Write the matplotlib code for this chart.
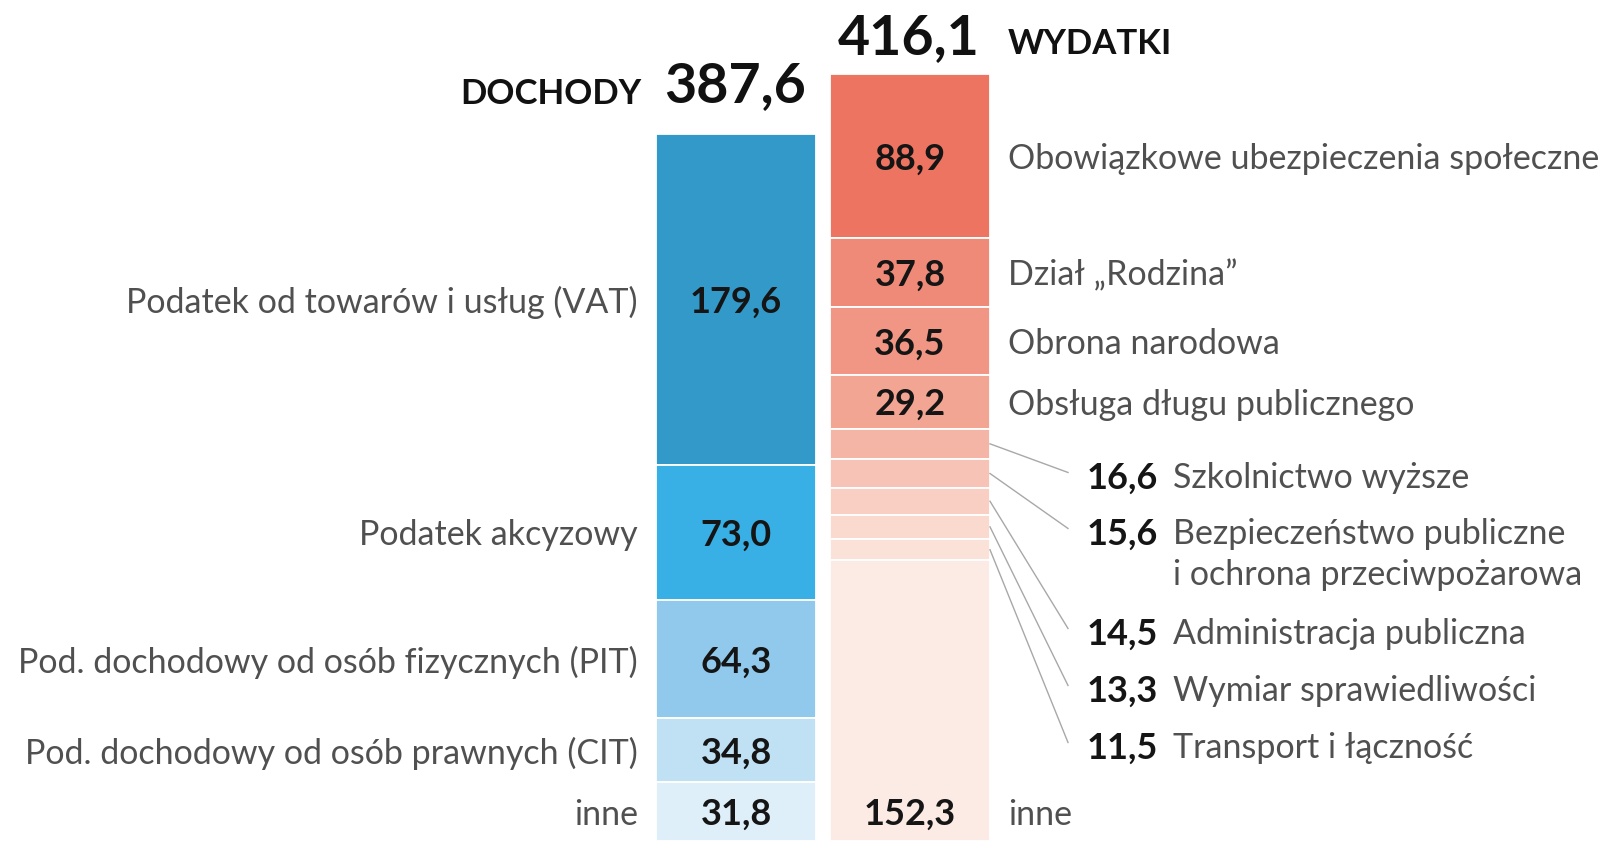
import matplotlib.pyplot as plt

# data (mld zł), listed top to bottom
income_labels = ['Podatek od towarów i usług (VAT)', 'Podatek akcyzowy',
                 'Pod. dochodowy od osób fizycznych (PIT)',
                 'Pod. dochodowy od osób prawnych (CIT)', 'inne']
income_values = [179.6, 73.0, 64.3, 34.8, 31.8]
income_total = 387.6

spend_labels = ['Obowiązkowe ubezpieczenia społeczne', 'Dział „Rodzina”',
                'Obrona narodowa', 'Obsługa długu publicznego',
                'Szkolnictwo wyższe',
                'Bezpieczeństwo publiczne\ni ochrona przeciwpożarowa',
                'Administracja publiczna', 'Wymiar sprawiedliwości',
                'Transport i łączność', 'inne']
spend_values = [88.9, 37.8, 36.5, 29.2, 16.6, 15.6, 14.5, 13.3, 11.5, 152.3]
spend_total = 416.1

income_colors = ['#3399c8', '#38b0e5', '#90c9ec', '#c0e0f4', '#deeffa']
spend_colors = ['#ec7461', '#ef8a78', '#f19684', '#f3a593', '#f5b5a6',
                '#f7c3b6', '#f9cfc4', '#fad9cf', '#fbe2d9', '#fceae5']

W, H = 1605, 841
PX = 1.843  # pixels per unit

fig = plt.figure(figsize=(W / 100, H / 100), dpi=100)
ax = fig.add_axes([0, 0, 1, 1])
ax.set_xlim(0, W)
ax.set_ylim(0, H / PX)
ax.axis('off')


def ypix(p):
    return (H - p) / PX


def fmt(v):
    return f'{v:.1f}'.replace('.', ',')


label_font = dict(family='Lato', fontsize=24.5, fontweight='normal', color='#505050')
num_font = dict(family='Lato', fontsize=26, fontweight='bold', color='#151515')
head_font = dict(family='Lato', fontweight='bold', color='#111111')

bx0, bx1 = 656, 816
rx0, rx1 = 830, 990


def stack(values, colors, x0, x1):
    bottoms = []
    b = sum(values)
    for v, c in zip(values, colors):
        b -= v
        ax.bar(x0, v, width=x1 - x0, bottom=b, align='edge', color=c,
               edgecolor='white', linewidth=1.3)
        bottoms.append(b)
    return bottoms


ib = stack(income_values, income_colors, bx0, bx1)
sb = stack(spend_values, spend_colors, rx0, rx1)

# income labels
for lab, v, b in zip(income_labels, income_values, ib):
    yc = b + v / 2
    ax.text(638, yc, lab, ha='right', va='center_baseline', **label_font)
    ax.text((bx0 + bx1) / 2, yc, fmt(v), ha='center', va='center_baseline', **num_font)

# spending: big segments labelled directly
inne_y = ib[-1] + income_values[-1] / 2
for i in [0, 1, 2, 3, 9]:
    v, b = spend_values[i], sb[i]
    yc = inne_y if i == 9 else b + v / 2
    ax.text(1008, yc, spend_labels[i], ha='left', va='center_baseline', **label_font)
    ax.text((rx0 + rx1) / 2, yc, fmt(v), ha='center', va='center_baseline', **num_font)

# small segments with leader lines
label_y = [478, 534, 634, 691, 748]
for i, yp in zip([4, 5, 6, 7, 8], label_y):
    v, b = spend_values[i], sb[i]
    yc = b + v / 2
    ty = ypix(yp)
    ax.plot([rx1, 1068], [yc, ty + 3], color='#a8a8a8', lw=1.0)
    ax.text(1158, ty, fmt(v), ha='right', va='center', **num_font)
    for k, ln in enumerate(spend_labels[i].split('\n')):
        ax.text(1173, ty - k * 41 / PX, ln, ha='left', va='center', **label_font)

# headers
ax.text(641, ypix(94), 'DOCHODY', ha='right', va='center', fontsize=25, **head_font)
ax.text(664, ypix(86), fmt(income_total), ha='left', va='center',
        fontsize=40, **head_font)
ax.text(838, ypix(38), fmt(spend_total), ha='left', va='center',
        fontsize=40, **head_font)
ax.text(1008, ypix(44), 'WYDATKI', ha='left', va='center', fontsize=25, **head_font)

fig.savefig('out.png', dpi=100, facecolor='white')
